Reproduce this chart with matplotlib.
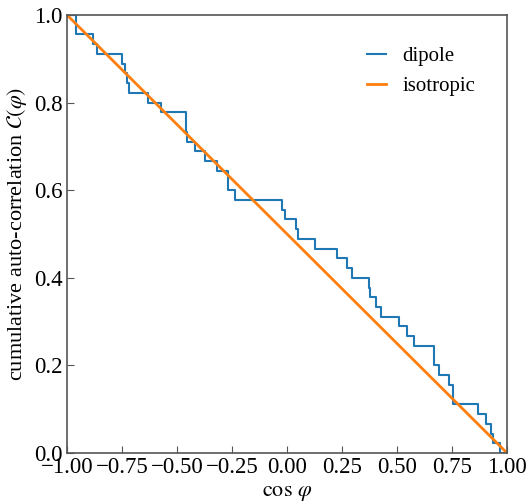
import matplotlib
matplotlib.use("Agg")
import matplotlib.pyplot as plt
import numpy as np

# pairwise cos(phi) values of the dipole sample (45 pairs)
dipole_cos = [-0.96, -0.96, -0.88, -0.865, -0.749, -0.736, -0.729, -0.72,
              -0.63, -0.574, -0.46, -0.46, -0.453, -0.418, -0.373, -0.317,
              -0.267, -0.267, -0.236, -0.023, -0.01, 0.041, 0.052, 0.126,
              0.226, 0.271, 0.294, 0.374, 0.377, 0.403, 0.426, 0.51, 0.544,
              0.577, 0.668, 0.668, 0.691, 0.735, 0.756, 0.756, 0.870, 0.903,
              0.928, 0.935, 0.97]
iso_x = [-1.0, 1.0]
iso_y = [1.0, 0.0]

x_ticks = [-1.0, -0.75, -0.5, -0.25, 0.0, 0.25, 0.5, 0.75, 1.0]
y_ticks = [0.0, 0.2, 0.4, 0.6, 0.8, 1.0]

plt.rcParams['font.family'] = ['Liberation Serif', 'DejaVu Serif']
plt.rcParams['mathtext.fontset'] = 'stix'

fig = plt.figure(figsize=(5.26, 5.03), dpi=100)
ax = fig.add_axes([0.1274, 0.0994, 0.8365, 0.8708])

c = np.sort(np.array(dipole_cos))
n = len(c)
xs = np.concatenate([[-1.0], c, [1.0]])
ys = np.concatenate([[1.0], 1.0 - np.arange(1, n + 1) / n, [0.0]])
ax.step(xs, ys, where='post', color='#1f77b4', lw=1.5, label='dipole')
ax.plot(iso_x, iso_y, color='#ff7f0e', lw=2.0, label='isotropic')

ax.set_xlim(-1, 1)
ax.set_ylim(0, 1)
ax.set_xticks(x_ticks)
ax.set_yticks(y_ticks)
ax.set_xticklabels([f"{v:.2f}".replace('-', '\u2212') for v in x_ticks])
ax.set_yticklabels([f"{v:.1f}" for v in y_ticks])
ax.tick_params(direction='in', labelsize=16.5, length=5, color='#555555', pad=3)
for s in ax.spines.values():
    s.set_color('#555555')
    s.set_linewidth(1.2)

ax.set_xlabel(r'$\cos\,\varphi$', fontsize=16)
ax.set_ylabel(r'cumulative auto-correlation $\mathcal{C}(\varphi)$', fontsize=16)

ax.legend(loc='upper right', frameon=False, fontsize=15, handlelength=0.9,
          bbox_to_anchor=(0.97, 0.97))

fig.savefig('out.png', dpi=100)
